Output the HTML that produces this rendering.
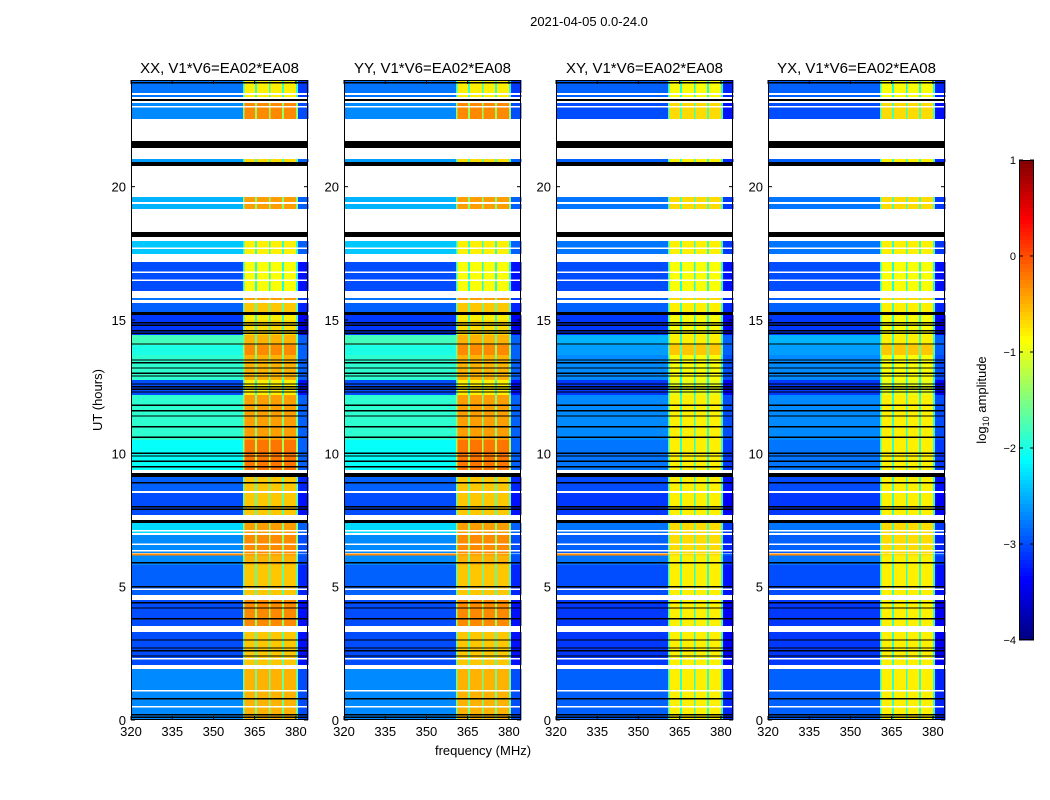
<!DOCTYPE html>
<html><head><meta charset="utf-8"><style>
body{margin:0;background:#fff;}
svg{display:block;font-family:"Liberation Sans","DejaVu Sans",sans-serif;}
</style></head><body>
<svg id="fig" width="1050" height="800" viewBox="0 0 1050 800" xmlns="http://www.w3.org/2000/svg">
<rect width="1050" height="800" fill="#fff"/>
<text x="589" y="26" font-size="13" text-anchor="middle">2021-04-05 0.0-24.0</text>
<text x="483" y="755" font-size="13" text-anchor="middle">frequency (MHz)</text>
<text x="102" y="400" font-size="13" text-anchor="middle" transform="rotate(-90 102 400)">UT (hours)</text>
<g id="panels"></g>
<g id="cbar"></g>
<text x="986" y="400" font-size="13" text-anchor="middle" transform="rotate(-90 986 400)">log<tspan font-size="9" dy="3">10</tspan><tspan dy="-3"> amplitude</tspan></text>
</svg>
<script>
const panelTitles=["XX, V1*V6=EA02*EA08","YY, V1*V6=EA02*EA08","XY, V1*V6=EA02*EA08","YX, V1*V6=EA02*EA08"];
const panelGroup=[0,0,1,1];
const xTicks=[320,335,350,365,380];
const yTicks=[0,5,10,15,20];
const cbTicks=[1,0,-1,-2,-3,-4];
const segTimes=[[23.51,24],[23.44,23.51],[23.36,23.44],[23.29,23.36],[23.21,23.29],[23.14,23.21],[22.54,23.14],[21.71,22.54],[21.45,21.71],[21.04,21.45],[20.92,21.04],[20.77,20.92],[19.61,20.77],[19.42,19.61],[19.35,19.42],[19.16,19.35],[18.30,19.16],[18.11,18.30],[17.96,18.11],[17.47,17.96],[17.17,17.47],[16.09,17.17],[15.83,16.09],[15.75,15.83],[15.64,15.75],[15.30,15.64],[15.19,15.30],[15.0,15.19],[14.44,15.0],[14.06,14.44],[13.69,14.06],[12.75,13.69],[12.19,12.75],[10.5,12.19],[9.38,10.5],[9.26,9.38],[9.11,9.26],[8.59,9.11],[8.51,8.59],[7.69,8.51],[7.5,7.69],[7.39,7.5],[7.01,7.39],[6.94,7.01],[6.26,6.94],[6.17,6.24],[5.81,6.17],[4.69,5.81],[4.5,4.69],[3.52,4.5],[3.3,3.52],[2.06,3.3],[1.91,2.06],[0,1.91]];
const segType=["D","W","D","W","K","W","D","W","K","W","D","K","W","D","W","D","W","K","W","D","W","D","W","D","W","D","K","D","D","D","D","D","D","D","D","W","K","D","W","D","W","K","D","W","D","D","D","D","W","D","W","D","W","D"];
const lowPar=[-2.8,0,-2.8,0,0,0,-2.7,0,0,0,-2.6,0,0,-2.5,0,-2.5,0,0,0,-2.4,0,-3.0,0,-2.8,0,-2.9,0,-3.1,-3.1,-1.8,-2.0,-1.9,-3.0,-1.9,-2.1,0,0,-2.9,0,-3.0,0,0,-2.3,0,-2.7,-0.3,-2.7,-2.9,0,-3.0,0,-3.0,0,-2.7];
const lowCross=[-2.9,0,-2.9,0,0,0,-3.0,0,0,0,-2.9,0,0,-2.8,0,-2.8,0,0,0,-2.8,0,-3.0,0,-2.9,0,-2.9,0,-3.1,-3.1,-2.5,-2.6,-2.7,-3.1,-2.7,-2.8,0,0,-3.0,0,-3.1,0,0,-2.8,0,-2.9,-0.3,-2.8,-3.0,0,-3.1,0,-3.1,0,-2.9];
const highPar=[-0.8,0,-0.8,0,0,0,-0.3,0,0,0,-0.7,0,0,-0.4,0,-0.4,0,0,0,-0.8,0,-0.9,0,-0.4,0,-0.6,0,-0.8,-0.7,-0.5,-0.3,-0.5,-0.8,-0.4,-0.2,0,0,-0.6,0,-0.6,0,0,-0.4,0,-0.3,-0.4,-0.5,-0.6,0,-0.3,0,-0.6,0,-0.5];
const highCross=[-0.9,0,-0.9,0,0,0,-0.7,0,0,0,-0.8,0,0,-0.7,0,-0.7,0,0,0,-0.8,0,-0.9,0,-0.7,0,-0.8,0,-0.9,-0.9,-0.8,-0.6,-0.9,-1.0,-0.8,-0.8,0,0,-0.8,0,-0.8,0,0,-0.7,0,-0.7,-0.7,-0.8,-0.8,0,-0.8,0,-0.8,0,-0.8];
const blackLines=[23.9,14.9,14.8,14.6,14.5,14.1,13.5,13.4,13.2,13.0,12.9,12.6,12.5,12.4,12.3,11.8,11.6,11.4,11.0,10.6,10.0,9.9,9.7,9.5,8.9,8.0,7.9,5.9,5.0,4.4,4.2,3.8,3.0,2.7,2.6,2.4,0.8,0.2,0.1];
const whiteLines=[23.0,17.7,16.8,16.5,7.1,6.6,6.35,4.9,2.3,1.1,0.5];
const freqBands=[[320,360.7],[360.7,361.3],[361.3,365.2],[365.2,365.8],[365.8,370.2],[370.2,370.8],[370.8,375.0],[375.0,375.6],[375.6,380.0],[380.0,380.7],[380.7,384.4]];
const freqKind=["low","stripe","high","stripe","high","stripe","high","stripe","high","stripe","edge"];

const PX=[131,344,556,768], PY=80, PW=177, PH=640;
const F0=320,F1=384.4,T0=0,T1=24;
function xs(p,f){return PX[p]+(f-F0)/(F1-F0)*PW;}
function ys(t){return PY+PH-(t-T0)/(T1-T0)*PH;}
function jet(v){let t=(v+4)/5;t=Math.max(0,Math.min(1,t));
 const c=x=>Math.round(255*Math.max(0,Math.min(1,x)));
 return `rgb(${c(1.5-Math.abs(4*t-3))},${c(1.5-Math.abs(4*t-2))},${c(1.5-Math.abs(4*t-1))})`;}
const NS="http://www.w3.org/2000/svg";
function mk(tag,attrs,parent){const e=document.createElementNS(NS,tag);for(const k in attrs)e.setAttribute(k,attrs[k]);parent.appendChild(e);return e;}
const panels=document.getElementById("panels");
for(let p=0;p<4;p++){
 const g=mk("g",{},panels);
 
 
 const hm=mk("g",{"shape-rendering":"crispEdges"},g);
 
 
 const grp=panelGroup[p];
 for(let s=0;s<segTimes.length;s++){
  const y0=ys(segTimes[s][1]), y1=ys(segTimes[s][0]);
  const ty=segType[s];
  if(ty!=="D"){
   const r=mk("rect",{x:PX[p],y:y0,width:PW,height:y1-y0,fill:ty==="K"?"#000":"#fff"},hm);
   
   
   continue;}
  const lo=grp?lowCross[s]:lowPar[s], hi=grp?highCross[s]:highPar[s];
  for(let b=0;b<freqBands.length;b++){
   const k=freqKind[b];
   let v=k==="low"?lo:k==="high"?hi:k==="stripe"?hi-1.1:Math.min(lo,-2.6)-0.3;
   const x0=xs(p,freqBands[b][0]),x1=xs(p,freqBands[b][1]);
   const r=mk("rect",{x:x0,y:y0,width:x1-x0+0.3,height:y1-y0,fill:jet(v)},hm);
   
   
  }
 }
 for(const t of blackLines){const l=mk("line",{x1:PX[p],x2:PX[p]+PW,y1:ys(t),y2:ys(t),stroke:"#000","stroke-width":1.2},hm);
  }
 for(const t of whiteLines){const l=mk("line",{x1:PX[p],x2:PX[p]+PW,y1:ys(t),y2:ys(t),stroke:"#fff","stroke-width":1.5},hm);
  }
 const fr=mk("rect",{x:PX[p]+0.5,y:PY+0.5,width:PW-1,height:PH-1,fill:"none",stroke:"#000","stroke-width":1},g);
 
 const tt=mk("text",{x:PX[p]+PW/2,y:PY-7,"font-size":15,"text-anchor":"middle"},g);tt.textContent=panelTitles[p];
 
 for(const f of xTicks){const x=xs(p,f);
  mk("line",{x1:x,x2:x,y1:PY+PH,y2:PY+PH-4,stroke:"#000"},g);mk("line",{x1:x,x2:x,y1:PY,y2:PY+4,stroke:"#000"},g);
  const tx=mk("text",{x:x,y:PY+PH+16,"font-size":13,"text-anchor":"middle"},g);tx.textContent=f;
  }
 for(const t of yTicks){const y=ys(t);
  mk("line",{x1:PX[p],x2:PX[p]+4,y1:y,y2:y,stroke:"#000"},g);mk("line",{x1:PX[p]+PW,x2:PX[p]+PW-4,y1:y,y2:y,stroke:"#000"},g);
  const tx=mk("text",{x:PX[p]-5,y:y+5,"font-size":13,"text-anchor":"end"},g);tx.textContent=t;
  }
}
const cb=document.getElementById("cbar");
const CX=1019,CW=15,CY0=160,CH=480;
for(let i=0;i<120;i++){const v=1-5*(i+0.5)/120;
 const r=mk("rect",{x:CX,y:CY0+i*CH/120,width:CW,height:CH/120+0.5,fill:jet(v),"shape-rendering":"crispEdges"},cb);
 }
mk("rect",{x:CX+0.5,y:CY0+0.5,width:CW-1,height:CH-1,fill:"none",stroke:"#000"},cb);
for(const v of cbTicks){const y=CY0+(1-v)/5*CH;
 mk("line",{x1:CX,x2:CX+4,y1:y,y2:y,stroke:"#000"},cb);mk("line",{x1:CX+CW,x2:CX+CW-4,y1:y,y2:y,stroke:"#000"},cb);
 const tx=mk("text",{x:CX-3,y:y+4,"font-size":11,"text-anchor":"end"},cb);tx.textContent=v<0?"\u2212"+(-v):v;
 }
</script>
</body></html>
